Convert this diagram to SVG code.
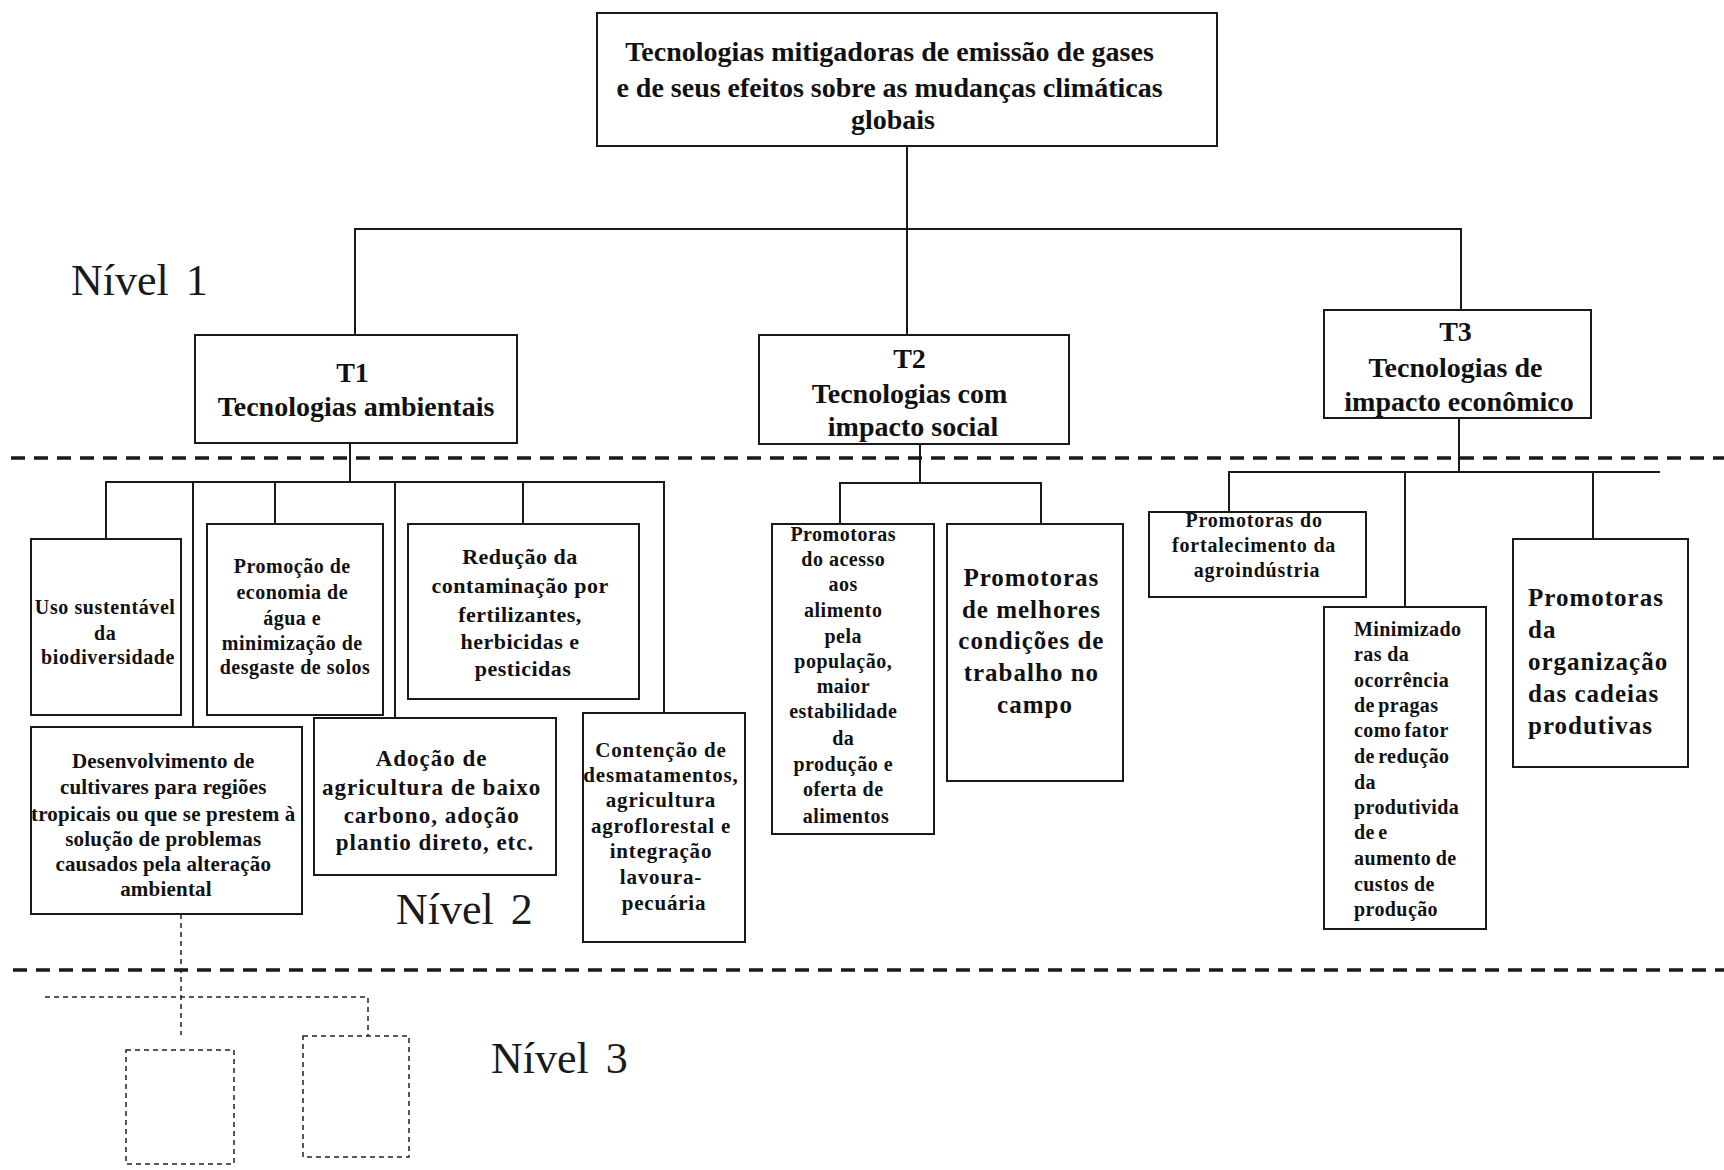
<svg xmlns="http://www.w3.org/2000/svg" width="1724" height="1170" viewBox="0 0 1724 1170">
<style>
.box{fill:#fff;stroke:#1a1a1a;stroke-width:2}
.dbox{fill:none;stroke:#222;stroke-width:1.5;stroke-dasharray:5 4}
.ln{stroke:#1a1a1a;stroke-width:2;fill:none}
.dln{stroke:#222;stroke-width:1.5;stroke-dasharray:5 4;fill:none}
.sep{stroke:#1a1a1a;stroke-width:3.5;stroke-dasharray:14 9;fill:none}
.t{font-family:"Liberation Serif","Times New Roman",serif;font-weight:bold;fill:#111;text-anchor:middle}
.tl{font-family:"Liberation Serif","Times New Roman",serif;font-weight:bold;fill:#111;text-anchor:start}
.lvl{font-family:"Liberation Serif","Times New Roman",serif;font-size:44px;fill:#1a1a1a;word-spacing:6px}
</style>
<rect width="1724" height="1170" fill="#fff"/>

<g id="separators">
<line class="sep" x1="11" y1="458" x2="1724" y2="458"/>
<line class="sep" x1="13" y1="970" x2="1724" y2="970"/>
</g>

<g id="levels">
<text class="lvl" x="71" y="295">Nível 1</text>
<text class="lvl" x="396" y="924">Nível 2</text>
<text class="lvl" x="491" y="1073">Nível 3</text>
</g>

<g id="connectors">
<polyline class="ln" points="907,146 907,335"/>
<polyline class="ln" points="355,335 355,229 1461,229 1461,310"/>
<polyline class="ln" points="350,443 350,482"/>
<polyline class="ln" points="106,539 106,482 664,482 664,713"/>
<polyline class="ln" points="193,482 193,727"/>
<polyline class="ln" points="275,482 275,524"/>
<polyline class="ln" points="395,482 395,718"/>
<polyline class="ln" points="523,482 523,524"/>
<polyline class="ln" points="920,444 920,483"/>
<polyline class="ln" points="840,524 840,483 1041,483 1041,524"/>
<polyline class="ln" points="1459,418 1459,472"/>
<polyline class="ln" points="1229,512 1229,472 1660,472"/>
<polyline class="ln" points="1405,472 1405,607"/>
<polyline class="ln" points="1593,472 1593,539"/>
<polyline class="dln" points="181,914 181,1035"/>
<polyline class="dln" points="45,997 368,997 368,1036"/>
</g>

<g id="root">
<rect class="box" x="597" y="13" width="620" height="133"/>
<text class="t" font-size="28">
<tspan x="893" y="61">Tecnologias mitigadoras de emissão de gases</tspan>
<tspan x="893" y="97">e de seus efeitos sobre as mudanças climáticas</tspan>
<tspan x="893" y="129">globais</tspan>
</text>
</g>

<g id="T1">
<rect class="box" x="195" y="335" width="322" height="108"/>
<text class="t" font-size="28">
<tspan x="356" y="382">T1</tspan>
<tspan x="356" y="416">Tecnologias ambientais</tspan>
</text>
</g>

<g id="T2">
<rect class="box" x="759" y="335" width="310" height="109"/>
<text class="t" font-size="28">
<tspan x="913" y="368">T2</tspan>
<tspan x="913" y="403">Tecnologias com</tspan>
<tspan x="913" y="436">impacto social</tspan>
</text>
</g>

<g id="T3">
<rect class="box" x="1324" y="310" width="267" height="108"/>
<text class="t" font-size="28">
<tspan x="1459" y="341">T3</tspan>
<tspan x="1459" y="377">Tecnologias de</tspan>
<tspan x="1459" y="411">impacto econômico</tspan>
</text>
</g>

<g id="uso">
<rect class="box" x="31" y="539" width="150" height="176"/>
<text class="t" font-size="20" letter-spacing="0.6">
<tspan x="108" y="614">Uso sustentável</tspan>
<tspan x="108" y="640">da</tspan>
<tspan x="108" y="664">biodiversidade</tspan>
</text>
</g>

<g id="promocao">
<rect class="box" x="207" y="524" width="176" height="191"/>
<text class="t" font-size="20" letter-spacing="0.5">
<tspan x="295" y="573">Promoção de</tspan>
<tspan x="295" y="599">economia de</tspan>
<tspan x="295" y="625">água e</tspan>
<tspan x="295" y="650">minimização de</tspan>
<tspan x="295" y="674">desgaste de solos</tspan>
</text>
</g>

<g id="reducao">
<rect class="box" x="408" y="524" width="231" height="175"/>
<text class="t" font-size="22" letter-spacing="0.5">
<tspan x="523" y="564">Redução da</tspan>
<tspan x="523" y="593">contaminação por</tspan>
<tspan x="523" y="622">fertilizantes,</tspan>
<tspan x="523" y="649">herbicidas e</tspan>
<tspan x="523" y="676">pesticidas</tspan>
</text>
</g>

<g id="desenvolvimento">
<rect class="box" x="31" y="727" width="271" height="187"/>
<text class="t" font-size="21" letter-spacing="0.2">
<tspan x="166" y="768">Desenvolvimento de</tspan>
<tspan x="166" y="794">cultivares para regiões</tspan>
<tspan x="166" y="821">tropicais ou que se prestem à</tspan>
<tspan x="166" y="846">solução de problemas</tspan>
<tspan x="166" y="871">causados pela alteração</tspan>
<tspan x="166" y="896">ambiental</tspan>
</text>
</g>

<g id="adocao">
<rect class="box" x="314" y="718" width="242" height="157"/>
<text class="t" font-size="23" letter-spacing="1">
<tspan x="435" y="766">Adoção de</tspan>
<tspan x="435" y="795">agricultura de baixo</tspan>
<tspan x="435" y="823">carbono, adoção</tspan>
<tspan x="435" y="850">plantio direto, etc.</tspan>
</text>
</g>

<g id="contencao">
<rect class="box" x="583" y="713" width="162" height="229"/>
<text class="t" font-size="21" letter-spacing="0.8">
<tspan x="664" y="757">Contenção de</tspan>
<tspan x="664" y="782">desmatamentos,</tspan>
<tspan x="664" y="807">agricultura</tspan>
<tspan x="664" y="833">agroflorestal e</tspan>
<tspan x="664" y="858">integração</tspan>
<tspan x="664" y="884">lavoura-</tspan>
<tspan x="664" y="910">pecuária</tspan>
</text>
</g>

<g id="acesso">
<rect class="box" x="772" y="524" width="162" height="310"/>
<text class="t" font-size="20" letter-spacing="0.5">
<tspan x="846" y="541">Promotoras</tspan>
<tspan x="846" y="566">do acesso</tspan>
<tspan x="846" y="591">aos</tspan>
<tspan x="846" y="617">alimento</tspan>
<tspan x="846" y="643">pela</tspan>
<tspan x="846" y="668">população,</tspan>
<tspan x="846" y="693">maior</tspan>
<tspan x="846" y="718">estabilidade</tspan>
<tspan x="846" y="745">da</tspan>
<tspan x="846" y="771">produção e</tspan>
<tspan x="846" y="796">oferta de</tspan>
<tspan x="846" y="823">alimentos</tspan>
</text>
</g>

<g id="trabalho">
<rect class="box" x="947" y="524" width="176" height="257"/>
<text class="t" font-size="25" letter-spacing="1">
<tspan x="1035" y="586">Promotoras</tspan>
<tspan x="1035" y="618">de melhores</tspan>
<tspan x="1035" y="649">condições de</tspan>
<tspan x="1035" y="681">trabalho no</tspan>
<tspan x="1035" y="713">campo</tspan>
</text>
</g>

<g id="agroindustria">
<rect class="box" x="1149" y="512" width="217" height="85"/>
<text class="t" font-size="20" letter-spacing="0.8">
<tspan x="1257" y="527">Promotoras do</tspan>
<tspan x="1257" y="552">fortalecimento da</tspan>
<tspan x="1257" y="577">agroindústria</tspan>
</text>
</g>

<g id="pragas">
<rect class="box" x="1324" y="607" width="162" height="322"/>
<text class="tl" font-size="20" letter-spacing="0.4">
<tspan x="1354" y="636">Minimizado</tspan>
<tspan x="1354" y="661">ras da</tspan>
<tspan x="1354" y="687">ocorrência</tspan>
<tspan x="1354" y="712" word-spacing="-2">de pragas</tspan>
<tspan x="1354" y="737" word-spacing="-2">como fator</tspan>
<tspan x="1354" y="763" word-spacing="-2">de redução</tspan>
<tspan x="1354" y="789">da</tspan>
<tspan x="1354" y="814">produtivida</tspan>
<tspan x="1354" y="839" word-spacing="-2">de e</tspan>
<tspan x="1354" y="865" word-spacing="-1">aumento de</tspan>
<tspan x="1354" y="891">custos de</tspan>
<tspan x="1354" y="916">produção</tspan>
</text>
</g>

<g id="cadeias">
<rect class="box" x="1513" y="539" width="175" height="228"/>
<text class="tl" font-size="25" letter-spacing="1">
<tspan x="1528" y="606">Promotoras</tspan>
<tspan x="1528" y="638">da</tspan>
<tspan x="1528" y="670">organização</tspan>
<tspan x="1528" y="702">das cadeias</tspan>
<tspan x="1528" y="734">produtivas</tspan>
</text>
</g>

<g id="nivel3-a">
<rect class="dbox" x="126" y="1050" width="108" height="114"/>
</g>
<g id="nivel3-b">
<rect class="dbox" x="303" y="1036" width="106" height="121"/>
</g>
</svg>
